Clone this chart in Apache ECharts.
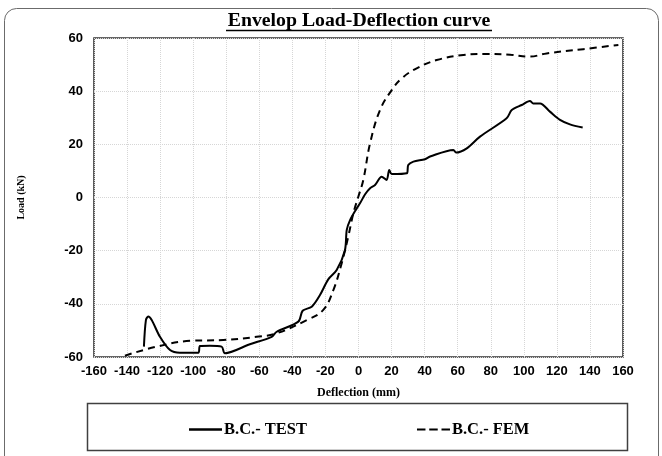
<!DOCTYPE html>
<html>
<head>
<meta charset="utf-8">
<script src="https://cdn.jsdelivr.net/npm/echarts@6/dist/echarts.min.js"></script>
<style>html,body{margin:0;padding:0;background:#fff}#c{width:662px;height:456px}</style>
</head>
<body>
<div id="c"></div>
<script>
const xTicks = [-160,-140,-120,-100,-80,-60,-40,-20,0,20,40,60,80,100,120,140,160];
const yTicks = [-60,-40,-20,0,20,40,60];

const testX = [-129.8,-128.6,-127.2,-125.1,-120.1,-114,-108,-96.9,-95.9,-89.9,-82.8,-80.8,-65.7,-52.5,-49.5,-36.4,-33.8,-28.3,-23.3,-18.3,-13.2,-8.2,-7.1,-5.1,-1.1,0.9,4,7,10,14,17,18.6,20.1,29.2,30.1,33.2,40.2,43.3,57.4,59,65.5,73.5,89.6,92.7,98.7,103.7,105.7,109.8,115.8,121.9,127.9,135.6];
const testY = [-56.1,-46.1,-44.8,-46.1,-52.4,-57.4,-58.4,-58.4,-55.9,-55.8,-56.1,-58.6,-55.2,-52.4,-50.5,-46.7,-42.6,-41.1,-36.7,-30.8,-27.3,-19.8,-12.2,-8.5,-4.1,-2.2,1.2,3.5,4.7,7.8,6.6,10.3,8.8,9.1,12.2,13.5,14.4,15.4,17.9,16.9,18.5,22.9,29.8,32.9,34.8,36.3,35.4,35.4,32.3,29.2,27.5,26.3];

const femX = [-141.3,-122.1,-101.9,-81.8,-61.6,-49.5,-31.3,-21.3,-15.2,-10.2,-6.2,-3.1,-0.1,2.9,7,13,20.1,26.1,35.2,47.3,63.4,77.5,91.7,103.7,113.8,136,157.2];
const femY = [-59.5,-56.1,-53.9,-53.6,-52.4,-51.1,-46.1,-42.3,-34.8,-24.8,-14.7,-5.9,0.3,6.6,20.4,32.9,40.4,44.8,48.6,51.7,53.6,54,53.7,53,54.2,55.8,57.4];

const seriesNames = ['B.C.- TEST','B.C.- FEM'];
const titleText = 'Envelop Load-Deflection curve';
const zip = (a,b) => a.map((v,i)=>[v,b[i]]);

const chart = echarts.init(document.getElementById('c'), null, {renderer:'canvas'});
const serif = 'Liberation Serif, Times New Roman, serif';
const tickFont = {fontFamily:'Liberation Sans, Arial, sans-serif', fontWeight:'bold', fontSize:13, color:'#000'};
const solidIcon = 'path://M0,0H32V2.2H0Z';
const dashIcon = 'path://M0,0H9V2.2H0Z M13,0H22V2.2H13Z M26,0H35V2.2H26Z';
chart.setOption({
  animation:false,
  backgroundColor:'#fff',
  graphic:[
    {type:'rect', shape:{x:4.5,y:8.5,width:654,height:460,r:12}, style:{fill:'none',stroke:'#6b6b6b',lineWidth:1}, silent:true},
    {type:'text', x:359, y:11, style:{text:titleText, x:0, y:0, align:'center', verticalAlign:'top', font:'bold 19.8px ' + serif, fill:'#000'}, silent:true},
    {type:'line', shape:{x1:226,y1:30.5,x2:492,y2:30.5}, style:{stroke:'#000',lineWidth:1.3}, silent:true},
    {type:'rect', shape:{x:87.5,y:403.5,width:540,height:47}, style:{fill:'none',stroke:'#404040',lineWidth:1.5}, silent:true}
  ],
  legend:{
    data:[{name:seriesNames[0], icon:solidIcon},{name:seriesNames[1], icon:dashIcon}],
    top:416, left:184,
    itemWidth:33, itemHeight:14, itemGap:110,
    itemStyle:{color:'#000', borderWidth:0},
    textStyle:{fontFamily:serif, fontWeight:'bold', fontSize:16.5, color:'#000', padding:[0,0,0,-3]}
  },
  grid:{left:94, right:39, top:38, bottom:99, show:true, borderColor:'#333', borderWidth:1.6, backgroundColor:'transparent'},
  xAxis:{
    type:'value', min:-160, max:160, interval:20,
    name:'Deflection (mm)', nameLocation:'middle', nameGap:30,
    nameTextStyle:{fontFamily:serif, fontWeight:'bold', fontSize:12, color:'#000'},
    axisLine:{show:false}, axisTick:{show:false},
    axisLabel:Object.assign({margin:8}, tickFont),
    splitLine:{show:true, lineStyle:{color:'#d6d6d6', type:'dotted', width:1}}
  },
  yAxis:{
    type:'value', min:-60, max:60, interval:20,
    name:'Load (kN)', nameLocation:'middle', nameGap:68,
    nameTextStyle:{fontFamily:serif, fontWeight:'bold', fontSize:10, color:'#000'},
    axisLine:{show:false}, axisTick:{show:false},
    axisLabel:Object.assign({margin:11}, tickFont),
    splitLine:{show:true, lineStyle:{color:'#d6d6d6', type:'dotted', width:1}}
  },
  series:[
    {name:seriesNames[0], type:'line', data:zip(testX,testY), showSymbol:false, symbol:'none', smooth:0.3,
     lineStyle:{color:'#000', width:2}, itemStyle:{color:'#000'}},
    {name:seriesNames[1], type:'line', data:zip(femX,femY), showSymbol:false, symbol:'none', smooth:0.4,
     lineStyle:{color:'#000', width:2, type:[7,5]}, itemStyle:{color:'#000'}}
  ]
});
</script>
</body>
</html>
